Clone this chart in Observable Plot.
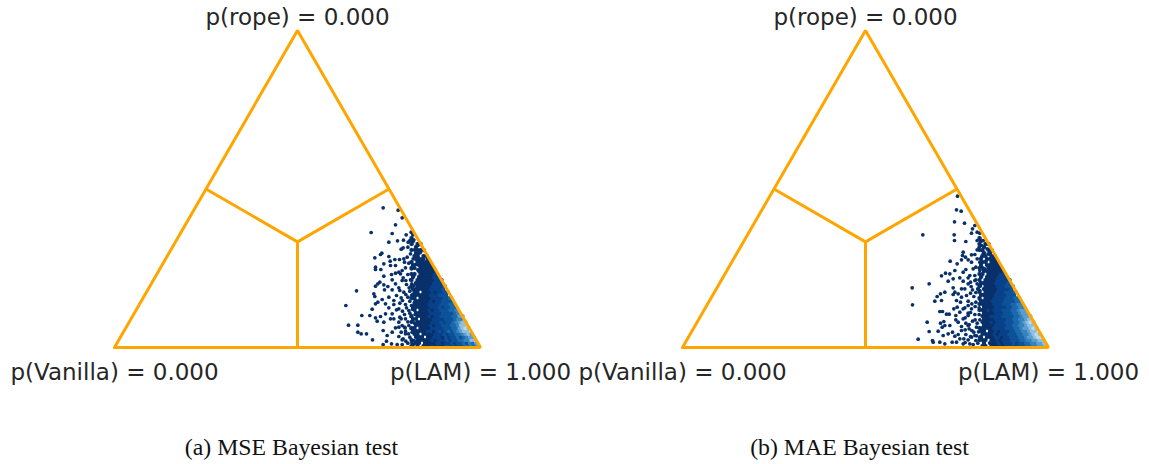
<!DOCTYPE html>
<html><head><meta charset="utf-8">
<script src="https://cdn.jsdelivr.net/npm/d3@7"></script>
<script src="https://cdn.jsdelivr.net/npm/@observablehq/plot@0.6"></script>
<style>html,body{margin:0;padding:0;background:#fff}svg{display:block}</style>
</head><body><div id="c"></div>
<script>
// Triangle geometry in read-off units (side = 1098)
const side = 1098, apex = 951;
const cornerLabels = [
  {u: 549, v: 990, t: "p(rope) = 0.000"},
  {u: 0, v: -75, t: "p(Vanilla) = 0.000"},
  {u: 1098, v: -75, t: "p(LAM) = 1.000"}
];
const captions = [
  {p: "a", t: "(a) MSE Bayesian test"},
  {p: "b", t: "(b) MAE Bayesian test"}
];
const sparseA = [[158,52],[203,59],[215,82],[195,103],[122,126],[185,129],[175,155],[201,151],[227,133],[242,125],[247,133],[219,149],[233,155],[244,160],[212,176],[218,172],[232,170],[154,188],[150,192],[175,198],[133,202],[160,220],[179,212],[193,207],[207,207],[135,230],[151,237],[135,237],[180,225],[195,225],[220,205],[230,200],[222,215],[160,257],[183,252],[195,248],[205,245],[215,240],[148,275],[142,280],[135,287],[160,283],[172,288],[185,268],[195,280],[215,270],[78,301],[130,310],[133,318],[162,298],[185,298],[208,300],[135,340],[142,335],[155,327],[175,320],[46,345],[125,356],[165,340],[175,352],[190,330],[94,375],[118,375],[135,382],[150,378],[165,370],[185,370],[205,355],[54,404],[82,404],[140,392],[160,395],[190,385],[208,380],[82,425],[92,430],[108,430],[158,420],[170,435],[185,425],[205,410],[126,448],[158,462],[168,452],[183,460],[200,462],[215,448],[225,430],[222,410]];
const fringeA = [[238,150],[250,148],[262,165],[252,178],[270,185],[240,190],[262,198],[248,205],[280,205],[235,218],[255,222],[270,218],[225,232],[243,235],[262,238],[285,232],[210,250],[232,252],[250,255],[275,250],[218,262],[240,268],[262,270],[228,282],[250,285],[205,292],[272,290],[220,305],[238,302],[258,308],[198,315],[212,322],[232,320],[250,325],[190,342],[208,338],[225,342],[243,345],[198,358],[216,362],[235,360],[180,385],[205,395],[225,385],[242,378],[215,405],[235,405],[252,398],[195,412],[225,422],[245,425],[205,438],[218,445],[238,440],[250,450],[232,458],[215,462],[248,462],[226,270],[244,280],[236,292],[252,298],[226,312],[244,314],[216,330],[238,332],[252,336],[228,352],[246,356],[222,372],[238,368],[254,372],[212,385],[232,394],[246,392],[224,412],[242,414],[212,425],[234,430],[256,436],[226,452],[244,456],[252,412]];
const sparseB = [[173,17],[170,58],[184,62],[164,94],[194,98],[69,133],[163,133],[164,150],[198,153],[225,105],[218,115],[215,128],[232,125],[240,128],[240,145],[250,150],[257,160],[238,170],[232,178],[190,185],[188,195],[197,200],[205,208],[215,215],[215,193],[225,192],[185,208],[172,220],[151,212],[232,205],[245,200],[250,190],[265,190],[137,248],[125,256],[150,250],[165,240],[198,237],[190,245],[180,262],[145,272],[88,280],[37,292],[160,265],[210,255],[228,230],[135,305],[122,310],[112,318],[105,332],[125,330],[160,292],[165,305],[185,295],[205,280],[225,270],[38,343],[160,312],[170,330],[185,320],[162,355],[120,363],[128,363],[140,371],[148,371],[168,375],[190,355],[205,345],[82,395],[122,398],[132,393],[135,405],[127,410],[168,388],[190,385],[205,375],[88,423],[115,422],[130,435],[158,425],[165,437],[185,420],[205,405],[55,446],[98,450],[100,455],[120,455],[135,460],[157,455],[192,445],[215,440],[210,460],[225,435],[190,460]];
const fringeB = [[232,150],[245,165],[262,175],[248,180],[270,192],[240,215],[258,212],[278,205],[220,235],[240,240],[255,235],[275,232],[205,262],[225,255],[245,258],[265,255],[190,272],[212,275],[232,280],[252,278],[195,295],[218,298],[240,300],[175,310],[200,315],[222,318],[182,335],[205,332],[228,335],[172,350],[195,352],[215,355],[238,352],[180,365],[205,368],[225,372],[175,395],[198,398],[218,392],[240,388],[150,405],[185,408],[208,415],[230,410],[145,430],[175,432],[198,432],[222,425],[180,445],[205,448],[228,450],[170,455],[220,462],[240,440],[228,268],[242,286],[214,288],[228,306],[246,312],[212,308],[216,340],[240,326],[226,348],[212,366],[238,372],[196,382],[226,388],[208,402],[232,398],[216,420],[236,424],[196,418],[212,438],[230,436],[196,456],[234,458]];
// Dense binned region: one string per row from the base upwards, digit = shade, 0 = empty
const denseA = [
"00000010101112121232323344546",
"0000000110111122122323343546",
"0000001011111212223233445577",
"000000011101122213233434566",
"000000011011112223233445676",
"0000001111122123234345677",
"00000011011112222333446787",
"000000011111212233344577",
"0000001011111222323345677",
"00000011011112222333455",
"000000101111212233334466",
"0000000111112222333345",
"0000000101112122333445",
"000000111111222323344",
"000000011111222233344",
"00000001111121223333",
"00000011011112222334",
"000000111111222333",
"0000000110111212233",
"00000011111122223",
"000000101111122223",
"0000000111111222",
"00000010111111222",
"000000101111122",
"000000110111112",
"00000000111111",
"00000011011111",
"0000001011111",
"0000001011111",
"000000011101",
"000000011011",
"0000000110",
"00000010111",
"000000010",
"0000001011",
"00000010",
"00000010"
];
const denseB = [
"00000001101112122323334455667",
"0000000101112122232334455667",
"0000001110112122233344556677",
"000000101112212233344566788",
"000000011112122233344556787",
"0000001101121222334455677",
"00000011111222233344566787",
"000000011112222334455677",
"0000000111212223334456787",
"00000001111222233445567",
"000000011122223333445667",
"0000000111122233344566",
"0000001112122233344566",
"000000011112222334455",
"000000111112223334455",
"00000011112222333344",
"00000010111222233344",
"000000111112222333",
"0000001011112223334",
"00000101111122223",
"000000101111222333",
"0000001111122223",
"00000010111122222",
"000000101111222",
"000000110111122",
"00000001111111",
"00000011011111",
"0000001011111",
"0000000110111",
"000000101111",
"000000011011",
"0000000101",
"00000011011",
"000000010",
"0000001011",
"00000010",
"00000010"
];
const shades = ["#08306b","#08418a","#0c5299","#1c68ad","#3582bf","#5a9fd0","#8fc0de","#c0d9ec"];
const triangleLine = "#ffa500", inkColor = "#262626";

const height = 464;
const sparseRows = (list, p, ox) => list.map(([x, y]) => ({p, u: ox + x, v: 471 - y}));
const denseRows = (rows, p) => rows.flatMap((row, i) => [...row].flatMap((c, j) =>
  c === "0" ? [] : [{p, u: 837 + 9 * j + (i % 2) * 4.5, v: 4.5 + 9 * i, s: +c}]));
const dots = [
  ...sparseRows(sparseA, "a", 648), ...sparseRows(fringeA, "a", 648),
  ...sparseRows(sparseB, "b", 652), ...sparseRows(fringeB, "b", 652)
];
const cells = [...denseRows(denseA, "a"), ...denseRows(denseB, "b")];
const outline = [[0,0],[side,0],[side/2,apex],[0,0]].map(([u,v]) => ({u,v}));
const spokes = [
  {u1: side/2, v1: apex/3, u2: side/2, v2: 0},
  {u1: side/2, v1: apex/3, u2: side/4, v2: apex/2},
  {u1: side/2, v1: apex/3, u2: side*3/4, v2: apex/2}
];

const plot = Plot.plot({
  width: 1149, height,
  marginLeft: 0, marginRight: 13, marginTop: 0, marginBottom: 0,
  x: {domain: [-342, 1362], axis: null},
  y: {domain: [-351, 1041], axis: null},
  fx: {domain: ["a","b"], padding: 0, axis: null},
  style: {background: "#fff"},
  marks: [
    Plot.dot(dots, {fx: "p", x: "u", y: "v", r: 1.85, fill: shades[0]}),
    Plot.dot(cells, {fx: "p", x: "u", y: "v", r: 2.05, symbol: "hexagon", fill: d => shades[d.s - 1]}),
    Plot.line(outline, {x: "u", y: "v", stroke: triangleLine, strokeWidth: 3, strokeLinejoin: "miter"}),
    Plot.link(spokes, {x1: "u1", y1: "v1", x2: "u2", y2: "v2", stroke: triangleLine, strokeWidth: 3}),
    Plot.text(cornerLabels, {x: "u", y: "v", text: "t", fontFamily: "DejaVu Sans", fontSize: 23, fill: inkColor}),
    Plot.text(captions, {fx: "p", x: () => 531, y: () => -299, text: "t", fontFamily: "Liberation Serif", fontSize: 23.8, fill: "#111"})
  ]
});
document.getElementById("c").append(plot);
</script></body></html>
